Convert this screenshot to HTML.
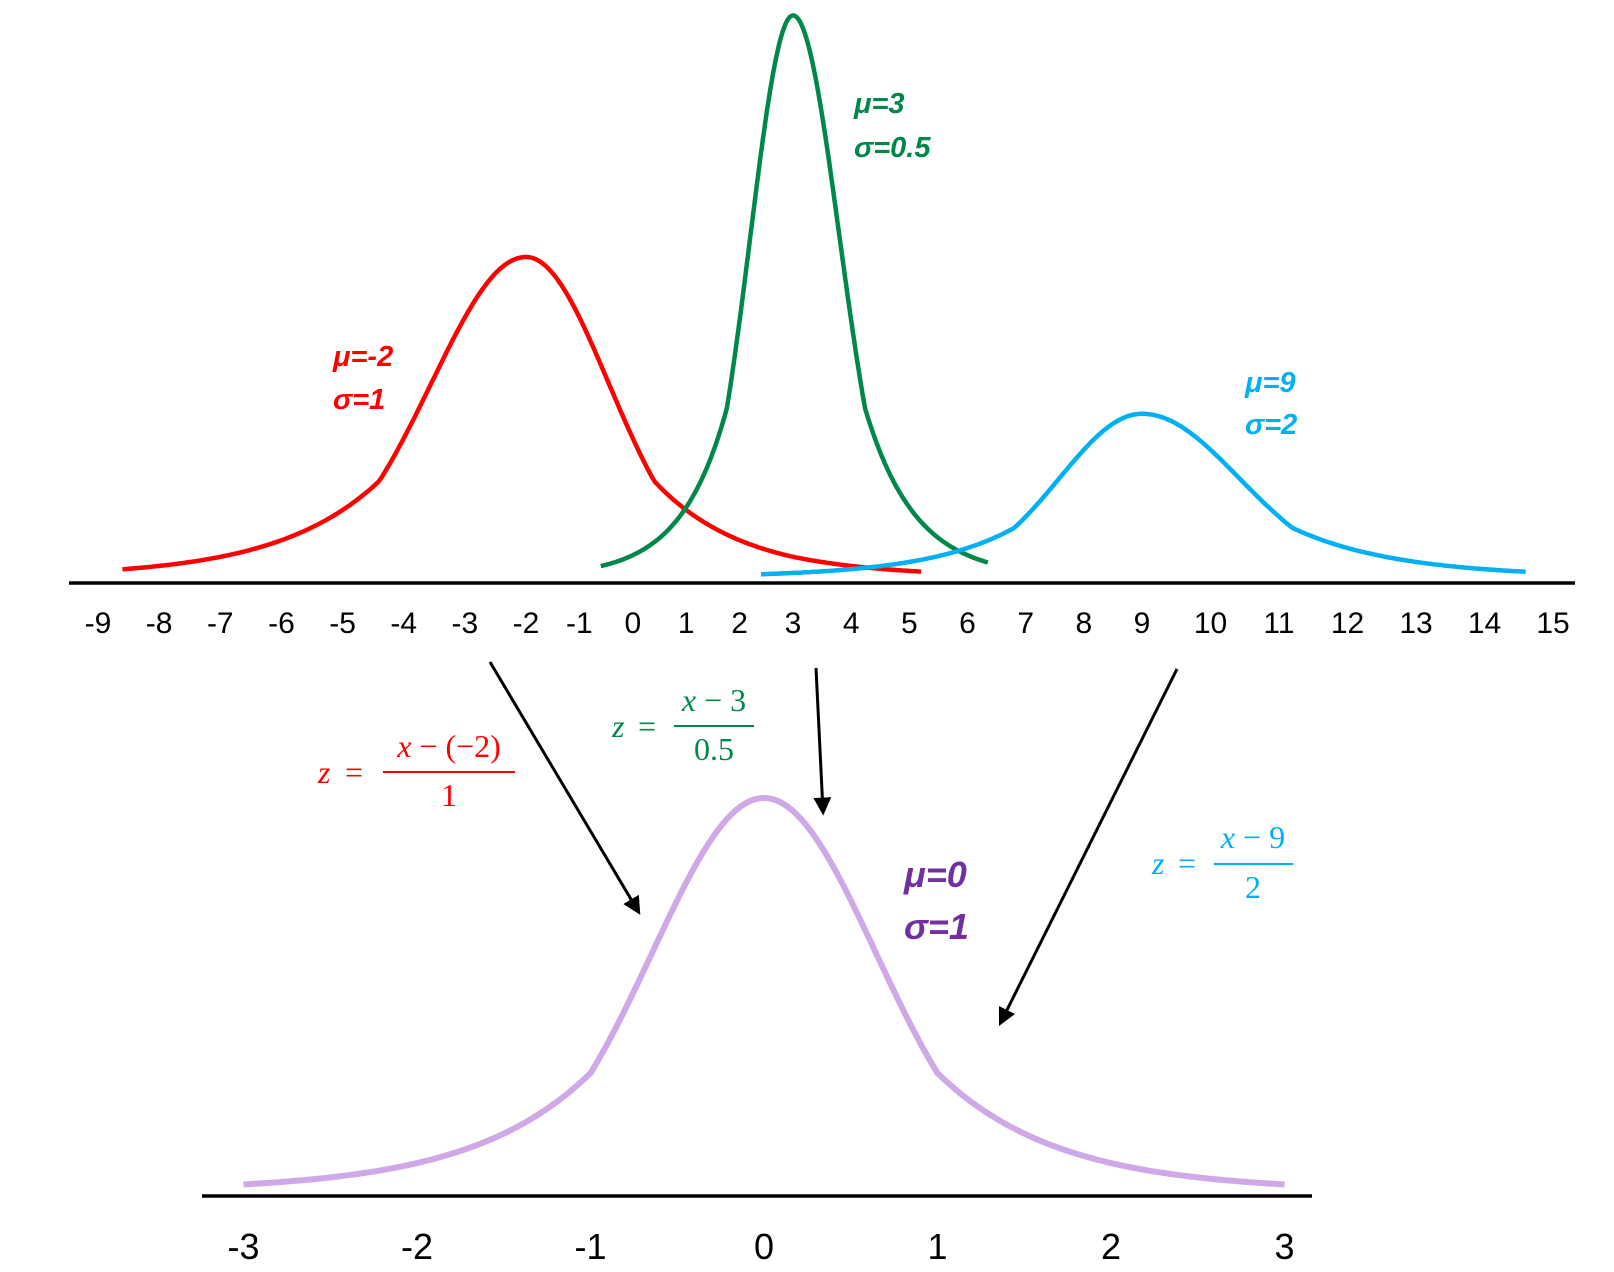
<!DOCTYPE html>
<html><head><meta charset="utf-8"><style>
html,body{margin:0;padding:0;background:#fff;}
svg{display:block;}
.tick{font-family:"Liberation Sans",sans-serif;fill:#000;text-anchor:middle;}
.lbl{font-family:"Liberation Sans",sans-serif;font-style:italic;font-weight:bold;}
.eq{font-family:"Liberation Serif",serif;}
</style></head><body>
<svg id="chart" width="1614" height="1272" viewBox="0 0 1614 1272" xmlns="http://www.w3.org/2000/svg">
<defs><marker id="ah" markerWidth="6" markerHeight="6" refX="4.5" refY="3" orient="auto" markerUnits="strokeWidth"><path d="M0,0 L6,3 L0,6 z" fill="#000"/></marker></defs>
<g id="curves"></g>
<line x1="69" y1="583" x2="1575" y2="583" stroke="#000" stroke-width="3.5"/>
<line x1="202" y1="1196" x2="1312" y2="1196" stroke="#000" stroke-width="3.5"/>
<g id="ticks"></g>

<text class="lbl" x="854" y="113" font-size="29" fill="#00884a">μ=3</text>
<text class="lbl" x="854" y="157" font-size="29" fill="#00884a">σ=0.5</text>
<text class="lbl" x="333" y="366" font-size="29" fill="#ff0000">μ=-2</text>
<text class="lbl" x="333" y="409" font-size="29" fill="#ff0000">σ=1</text>
<text class="lbl" x="1245" y="392" font-size="29" fill="#00b0f0">μ=9</text>
<text class="lbl" x="1245" y="434" font-size="29" fill="#00b0f0">σ=2</text>
<text class="lbl" x="904" y="887" font-size="36" fill="#7030a0">μ=0</text>
<text class="lbl" x="904" y="939" font-size="36" fill="#7030a0">σ=1</text>

<g class="eq" fill="#ff0000">
<text x="318" y="783" font-size="32" font-style="italic">z</text><text x="345" y="783" font-size="32">=</text>
<text x="449" y="757" font-size="32" text-anchor="middle"><tspan font-style="italic">x</tspan> − (−2)</text>
<line x1="383" y1="772" x2="515" y2="772" stroke="#ff0000" stroke-width="2"/>
<text x="449" y="806" font-size="32" text-anchor="middle">1</text></g>
<g class="eq" fill="#00884a">
<text x="612" y="737" font-size="32" font-style="italic">z</text><text x="638" y="737" font-size="32">=</text>
<text x="714" y="711" font-size="32" text-anchor="middle"><tspan font-style="italic">x</tspan> − 3</text>
<line x1="674" y1="726" x2="754" y2="726" stroke="#00884a" stroke-width="2"/>
<text x="714" y="760" font-size="32" text-anchor="middle">0.5</text></g>
<g class="eq" fill="#00b0f0">
<text x="1152" y="874" font-size="32" font-style="italic">z</text><text x="1178" y="874" font-size="32">=</text>
<text x="1253" y="848" font-size="32" text-anchor="middle"><tspan font-style="italic">x</tspan> − 9</text>
<line x1="1214" y1="864" x2="1293" y2="864" stroke="#00b0f0" stroke-width="2"/>
<text x="1253" y="898" font-size="32" text-anchor="middle">2</text></g>

<line x1="490" y1="662" x2="638" y2="911" stroke="#000" stroke-width="3" marker-end="url(#ah)"/>
<line x1="816" y1="668" x2="823" y2="811" stroke="#000" stroke-width="3" marker-end="url(#ah)"/>
<line x1="1177" y1="669" x2="1001" y2="1022" stroke="#000" stroke-width="3" marker-end="url(#ah)"/>
</svg>
<script>
const curveNames = ['red', 'green', 'blue'];
const mus = [-2, 3, 9];
const sigmas = [1, 0.5, 2];
const peakHeights = [1, 1.755, 0.51];
const widths = [1.2, 0.62, 1.1];
const xStarts = [-8.6, -0.6, 2.4];
const xEnds = [5.2, 6.35, 14.6];
const colors = ['#ff0000', '#00884a', '#00b0f0'];
const topTicks = [-9,-8,-7,-6,-5,-4,-3,-2,-1,0,1,2,3,4,5,6,7,8,9,10,11,12,13,14,15];
const stdMu = 0, stdSigma = 1, stdWidth = 0.5, stdPeak = 1, stdStart = -3, stdEnd = 3;
const bottomTicks = [-3,-2,-1,0,1,2,3];

const ns = 'http://www.w3.org/2000/svg';
const dom = [-9, -2, 3, 9, 15], rng = [98, 526, 793, 1142, 1553];
function xTop(v){
  for (let i=0;i<dom.length-1;i++){
    if (v<=dom[i+1] || i===dom.length-2){
      return rng[i] + (v-dom[i])*(rng[i+1]-rng[i])/(dom[i+1]-dom[i]);
    }
  }
}
const topBase = 583, topUnit = 320;
function yTop(h){ return topBase - 6 - h*topUnit; }
function xBot(v){ return 764 + v*173.5; }
function yBot(h){ return 1196 - 5 - h*393; }
function shape(z){
  const a = Math.abs(z);
  if (a <= 2) return Math.exp(-z*z/(2*1.66));
  return 0.3*Math.exp(-(a-2)*0.72);
}
const cg = document.getElementById('curves');
function drawCurve(x0,x1,mu,w,peak,xs,ys,color,sw,name){
  let d='';
  const n=300;
  for(let i=0;i<=n;i++){
    const x=x0+(x1-x0)*i/n;
    const h=peak*shape((x-mu)/w);
    d+=(i?'L':'M')+xs(x).toFixed(1)+','+ys(h).toFixed(1);
  }
  const p=document.createElementNS(ns,'path');
  p.setAttribute('d',d);p.setAttribute('fill','none');
  p.setAttribute('stroke',color);p.setAttribute('stroke-width',sw);
  p.setAttribute('stroke-linejoin','round');
  
  
  cg.appendChild(p);
}
for(let i=0;i<mus.length;i++){
  drawCurve(xStarts[i],xEnds[i],mus[i],widths[i],peakHeights[i],xTop,yTop,colors[i],4.5,curveNames[i]+'-curve');
}
drawCurve(stdStart,stdEnd,stdMu,stdWidth*stdSigma,stdPeak,xBot,yBot,'#cfa8e8',6,'standard-normal-curve');

const tg=document.getElementById('ticks');
topTicks.forEach(v=>{
  const t=document.createElementNS(ns,'text');
  t.setAttribute('class','tick');t.setAttribute('x',xTop(v));t.setAttribute('y',633);
  t.setAttribute('font-size','30');
  t.textContent=v;
  
  
  tg.appendChild(t);
});
bottomTicks.forEach(v=>{
  const t=document.createElementNS(ns,'text');
  t.setAttribute('class','tick');t.setAttribute('x',xBot(v));t.setAttribute('y',1259);
  t.setAttribute('font-size','36');
  t.textContent=v;
  
  
  tg.appendChild(t);
});
</script>
</body></html>
